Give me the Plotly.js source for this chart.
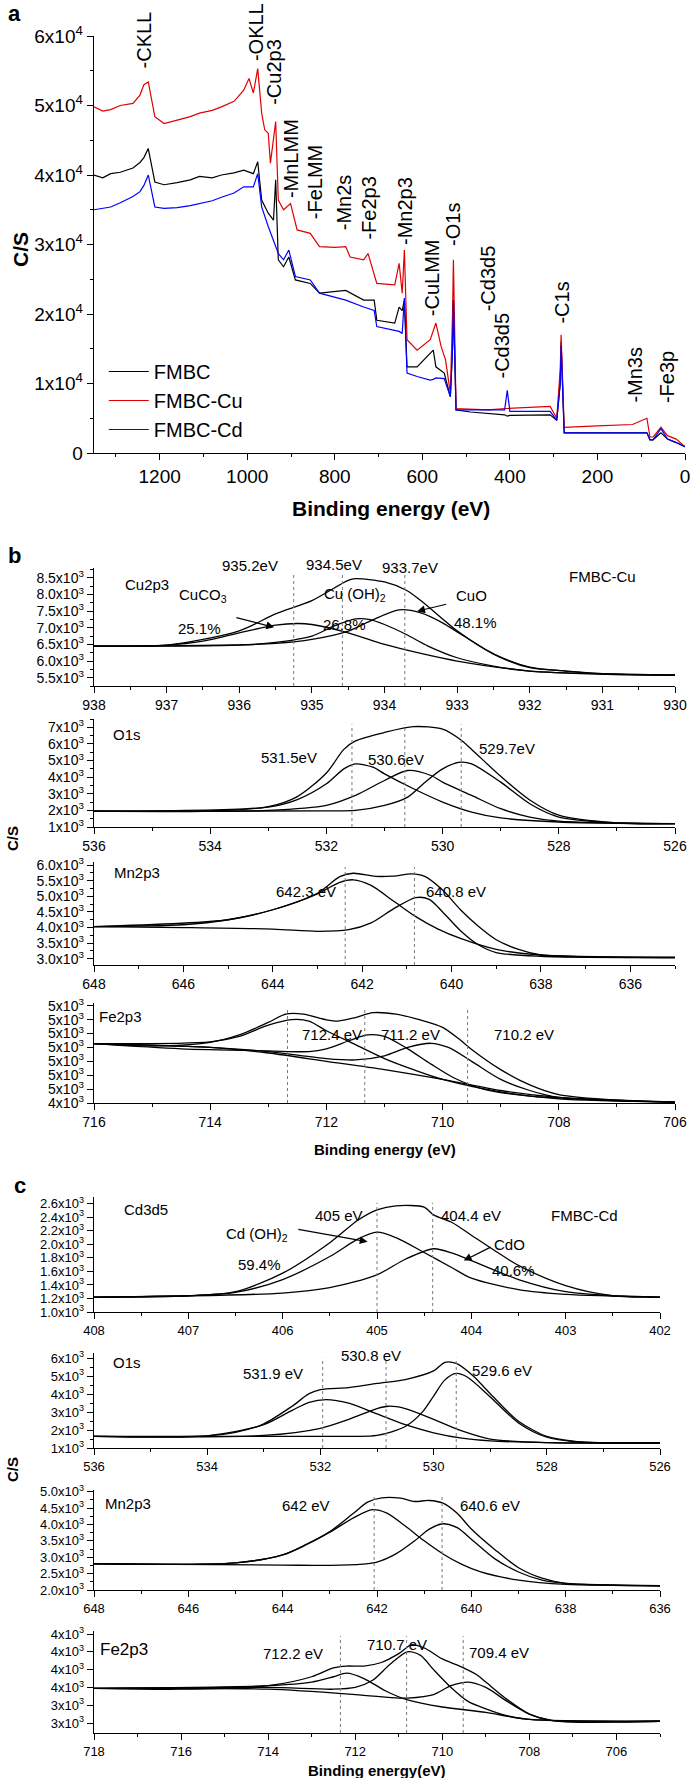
<!DOCTYPE html>
<html><head><meta charset="utf-8">
<script src="https://cdn.plot.ly/plotly-3.0.1.min.js"></script>
<style>body{margin:0;background:#fff}#c{width:692px;height:1778px}</style>
</head><body><div id="c"></div>
<script>
// ---------- Panel a: survey spectra ----------
const surveyE_Cu = [1350,1330,1312,1290,1261,1245,1236,1226,1211,1190,1160,1130,1109,1080,1059,1030,1008,996,986,976,967,960,952,947,935,929,917,901,886,856,835,800,775,765,734,724,704,680,663,653,646,641,635,612,582,569,557,547,536,531,529,523,490,450,410,308,293,285,283,276,200,120,87,80,73,55,40,20,0];
const surveyCu   = [49800,49200,49400,50000,50300,51500,53000,53400,48400,47400,47900,48400,48900,49300,49800,50600,52200,53900,51800,55300,48900,46500,46000,41700,47700,36400,35000,35900,32100,31600,29700,29600,29700,28200,27800,28700,24400,24300,24200,27300,23000,29200,16300,14800,16300,18700,15300,13400,8600,20000,27800,6400,6300,6200,6400,6700,5000,12000,17000,3700,3900,4100,5000,2300,2300,3700,2500,2000,900];
const surveyE = [1350,1330,1312,1290,1261,1245,1236,1226,1211,1190,1160,1130,1109,1080,1059,1030,1008,986,976,967,952,940,935,929,917,905,890,856,835,800,775,734,710,704,663,653,646,641,635,612,582,575,569,550,536,531,529,523,490,450,412,406,400,308,293,285,283,276,200,120,87,80,73,55,40,20,0];
const surveyFMBC = [40000,39600,40200,40400,41000,41800,42500,43800,39000,38600,38900,39300,39800,39600,40000,40300,40700,40200,41900,36400,34500,33500,39300,27800,26800,28200,24900,24400,23000,23200,23400,22000,22000,19100,18700,21000,20500,22000,12400,12400,14300,14800,12400,11500,8100,15000,22000,6200,5900,5700,5500,5300,5400,5500,4700,10000,16000,2900,2900,2800,2900,1900,1900,2900,2000,1500,900];
const surveyCd   = [35000,35200,35400,36000,36900,37600,38500,40000,35400,35200,35300,35600,35900,36300,36800,37400,38300,38300,40200,35400,32600,30600,30000,28700,27800,29200,25400,24900,23000,22400,22000,21000,20500,18200,17700,17500,17200,22300,11500,11000,10500,10600,10800,10700,8100,15000,22000,6200,6200,6200,6200,9000,6000,6000,4700,10000,15500,2900,2900,2800,2900,1900,1900,3500,2000,1500,900];
const surveyLabels = ["-CKLL","-OKLL","-Cu2p3","-MnLMM","-FeLMM","-Mn2s","-Fe2p3","-Mn2p3","-CuLMM","-O1s","-Cd3d5","-Cd3d5","-C1s","-Mn3s","-Fe3p"];
const surveyLabelE = [1236,980,939,901,846,780,721,641,579,529,450,417,280,113,41];
const surveyLabelY = [55100,56100,49800,36400,33300,31700,30400,29700,19400,29500,20100,10500,18400,6900,6900];
const aYTicks = [0,10000,20000,30000,40000,50000,60000];
const aYText = ["0","1x10<sup>4</sup>","2x10<sup>4</sup>","3x10<sup>4</sup>","4x10<sup>4</sup>","5x10<sup>4</sup>","6x10<sup>4</sup>"];

// ---------- Panel b: FMBC-Cu ----------
const bCuE_env = [938,937,936,935.5,935,934.5,934.4,934,933.7,933.5,933,932.5,932,931.5,931,930];
const bCu_env  = [6450,6480,6910,7420,7820,8430,8480,8380,8130,7820,6910,6210,5800,5700,5620,5580];
const bCuE_c1 = [938,937,936.5,936,935.5,935.2,935,934.5,934,933.5,933,932,931,930];
const bCu_c1  = [6450,6480,6600,6850,7080,7130,7100,6850,6500,6230,6000,5700,5610,5580];
const bCuE_c2 = [938,936,935.5,935,934.7,934.4,934.2,934,933.7,933.4,933,932.5,932,931,930];
const bCu_c2  = [6450,6480,6560,6750,7050,7270,7250,7100,6800,6450,6100,5850,5700,5610,5580];
const bCuE_c3 = [938,937,936,935.5,935,934.5,934.2,933.8,933.5,933.2,933,932.5,932,931.5,931,930];
const bCu_c3  = [6450,6455,6490,6530,6650,6900,7200,7540,7450,7150,6880,6220,5820,5700,5620,5580];
const bCuV = [935.25,934.58,933.72];

const bOE = [536,534,533,532.5,532,531.7,531.5,531,530.5,530,529.7,529.5,529,528.5,528,527,526];
const bO_env = [1950,1960,2220,2830,4250,5670,6180,6690,7040,6890,6280,5670,4050,2630,1710,1240,1200];
const bOE_c1 = [536,533,532.5,532,531.7,531.5,531.2,531,530.5,530,529.5,529,528,526];
const bO_c1  = [1950,2200,2650,3600,4500,4800,4600,4200,3300,2500,1900,1550,1300,1200];
const bOE_c2 = [536,533,532,531.5,531,530.6,530.2,530,529.5,529,528.5,528,526];
const bO_c2  = [1950,2000,2300,2900,3800,4400,4100,3700,2900,2100,1600,1350,1200];
const bOE_c3 = [536,532,531.5,531,530.6,530.3,530,529.7,529.5,529,528.5,528,527,526];
const bO_c3  = [1950,1970,2000,2300,2800,3700,4500,4900,4800,3700,2400,1600,1250,1200];
const bOV = [531.56,530.65,529.68];

const bMnE_env = [648,646,645,644,643,642.5,642.2,641.7,641.3,640.9,640.6,640.2,639.8,639.4,639,638.5,638,637,635];
const bMn_env  = [4030,4090,4250,4570,5100,5630,5740,5640,5650,5720,5640,5200,4570,4040,3610,3300,3120,3060,3040];
const bMnE_c1 = [648,645,644,643,642.5,642.2,641.8,641.3,640.8,640.3,639.8,639,638,635];
const bMn_c1  = [4030,4250,4570,5080,5450,5530,5350,4850,4350,3950,3650,3300,3120,3040];
const bMnE_c2 = [648,646,644,643,642.3,641.8,641.3,640.8,640.5,640.2,639.8,639.4,639,638,635];
const bMn_c2  = [4030,4000,3950,3880,3930,4150,4600,4960,4900,4500,3900,3450,3200,3080,3040];
const bMnV = [642.38,640.83];

const bFeE_env = [716,715,714,713.5,713,712.7,712.4,712,711.8,711.5,711.2,710.8,710.4,710,709.7,709.5,709,708.5,708,707,706];
const bFe_env  = [4827,4810,4837,4890,4980,5040,5040,4999,4990,5015,5050,5040,5000,4945,4855,4785,4640,4530,4460,4420,4407];
const bFeE_c1 = [716,714,713.5,713,712.6,712.3,712,711.5,711,710.5,710,709,708,706];
const bFe_c1  = [4827,4840,4880,4960,5000,4990,4920,4820,4720,4640,4570,4480,4430,4407];
const bFeE_c2 = [716,714.5,713,712.3,712,711.6,711.3,711,710.6,710.2,709.8,709.3,708.5,706];
const bFe_c2  = [4827,4790,4775,4770,4790,4850,4890,4880,4790,4680,4580,4500,4450,4407];
const bFeE_c3 = [716,714,713,712,711.5,711,710.6,710.2,709.9,709.5,709,708.5,708,706];
const bFe_c3  = [4827,4800,4770,4720,4710,4740,4800,4830,4800,4700,4570,4490,4440,4407];
const bFeE_bg = [716,714,713,712,711,710,709,708,706];
const bFe_bg  = [4827,4800,4760,4700,4640,4570,4490,4440,4407];
const bFeV = [712.67,711.34,709.57];

// ---------- Panel c: FMBC-Cd ----------
const cCdE_env = [408,407,406.5,406,405.5,405.2,405,404.8,404.5,404.4,404.2,404,403.5,403,402.5,402];
const cCd_env  = [1220,1240,1300,1575,2025,2360,2510,2570,2550,2435,2320,2135,1690,1390,1240,1220];
const cCdE_c1 = [408,407,406.5,406,405.5,405.2,405,404.8,404.5,404.2,404,403.5,403,402];
const cCd_c1  = [1220,1240,1290,1480,1820,2080,2180,2100,1880,1650,1500,1330,1260,1220];
const cCdE_c2 = [408,406,405.5,405,404.7,404.4,404.2,404,403.5,403,402.5,402];
const cCd_c2  = [1220,1280,1360,1550,1780,1935,1870,1760,1480,1300,1240,1220];
const cCdV = [405.0,404.41];

const cOE_env = [536,534,533.5,533,532.5,532.2,532,531.5,531,530.5,530,529.8,529.6,529.3,529,528.5,528,527.5,527,526];
const cO_env  = [1650,1680,1870,2350,3330,4030,4260,4370,4600,4820,5300,5780,5720,5020,4030,2490,1650,1370,1280,1280];
const cOE_c1 = [536,534,533,532.5,532.2,531.9,531.5,531,530.5,530,529.5,529,528,526];
const cO_c1  = [1650,1680,2300,3100,3550,3700,3500,2900,2300,1850,1550,1400,1300,1280];
const cOE_c2 = [536,533,532,531.5,531,530.8,530.5,530,529.5,529,528,526];
const cO_c2  = [1650,1700,2100,2600,3200,3330,3200,2600,1950,1500,1300,1280];
const cOE_c3 = [536,531.5,531,530.5,530.2,530,529.8,529.6,529.4,529,528.5,528,527.5,526];
const cO_c3  = [1650,1650,1700,2200,3000,3900,4800,5160,4950,3850,2400,1600,1350,1280];
const cOV = [531.96,530.84,529.6];

const cMnE_env = [648,645,644,643.5,643,642.5,642.2,641.9,641.5,641.2,640.9,640.6,640.3,640,639.5,639,638.5,638,637,636];
const cMn_env  = [2800,2830,3070,3390,3780,4340,4680,4810,4800,4700,4730,4650,4340,3860,3230,2680,2360,2200,2150,2130];
const cMnE_c1 = [648,645,644,643.5,643,642.5,642.1,641.8,641.4,641,640.6,640.2,639.8,639,638,636];
const cMn_c1  = [2800,2830,3070,3380,3760,4200,4450,4350,3950,3500,3100,2780,2550,2300,2170,2130];
const cMnE_c2 = [648,644,643,642.3,642,641.6,641.2,640.9,640.6,640.3,640,639.5,639,638.5,638,636];
const cMn_c2  = [2800,2760,2750,2790,2850,3100,3500,3850,4020,3900,3550,2950,2550,2300,2200,2130];
const cMnV = [642.06,640.62];

const cFeE_env = [718,716,714,713,712.5,712.2,711.8,711.4,711,710.7,710.4,710,709.6,709.2,709,708.5,708,707.5,707,706,705];
const cFe_env  = [3495,3490,3510,3560,3610,3620,3620,3640,3690,3740,3720,3660,3620,3570,3530,3430,3350,3315,3305,3305,3310];
const cFeE_c1 = [718,714,713,712.5,712.2,711.8,711.3,710.8,710,709,708,705];
const cFe_c1  = [3495,3510,3530,3560,3580,3550,3480,3430,3390,3360,3320,3310];
const cFeE_c2 = [718,714,712.5,712,711.6,711.2,710.8,710.5,710.2,709.8,709.4,709,708.5,708,705];
const cFe_c2  = [3495,3500,3490,3500,3540,3630,3700,3680,3600,3500,3420,3380,3340,3320,3310];
const cFeE_c3 = [718,714,712,711,710.8,710.2,709.8,709.4,709,708.5,708,707.5,705];
const cFe_c3  = [3495,3490,3460,3440,3440,3460,3510,3530,3500,3420,3350,3315,3310];
const cFeV = [712.34,710.82,709.52];

// ---------- build ----------
const F = "Liberation Sans, Arial, sans-serif";
const H = 1778, W = 692;
const traces = [], annotations = [], shapes = [];
const layout = {width:W, height:H, margin:{l:0,r:0,t:0,b:0}, showlegend:true,
  paper_bgcolor:'#fff', plot_bgcolor:'rgba(0,0,0,0)', font:{family:F,color:'#000'},
  legend:{x:0.15, y:1-352/H, xanchor:'left', yanchor:'top', font:{size:20,family:F}, bgcolor:'rgba(0,0,0,0)', tracegroupgap:0, itemwidth:40}};

function ax(n){ return n===1 ? '' : String(n); }
function addAxes(n, xd, ytop, ybot, xr, yr, xdtick, yvals, ytext, tfs, xminor, yminor){
  layout['xaxis'+ax(n)] = {domain:[94/W, xd/W], range:xr, anchor:'y'+ax(n), showline:true, linecolor:'#000', linewidth:1.3,
    showgrid:false, zeroline:false, ticks:'outside', ticklen:6, tickcolor:'#000', dtick:xdtick, tick0:0,
    tickfont:{size:tfs, family:F}, minor:{ticks:'outside', ticklen:3, dtick:xminor, tickcolor:'#000'}};
  layout['yaxis'+ax(n)] = {domain:[1-ybot/H, 1-ytop/H], range:yr, anchor:'x'+ax(n), showline:true, linecolor:'#000', linewidth:1.3,
    showgrid:false, zeroline:false, ticks:'outside', ticklen:6, tickcolor:'#000', tickmode:'array', tickvals:yvals, ticktext:ytext,
    tickfont:{size:tfs, family:F}, minor:{ticks:'outside', ticklen:3, dtick:yminor, tickcolor:'#000'}};
}
function line(n, x, y, color, name, show){
  traces.push({x:x, y:y, xaxis:'x'+ax(n), yaxis:'y'+ax(n), type:'scatter', mode:'lines', name:name||'',
    showlegend:!!show, line:{color:color||'#000', width: show!==undefined?1.2:1.3, shape: show!==undefined?'linear':'spline', smoothing:0.8}, hoverinfo:'skip'});
}
function txt(n, x, y, t, size, xanchor, ysh){
  annotations.push({xref:'x'+ax(n), yref:'y'+ax(n), x:x, y:y, yshift:ysh||0, text:t, showarrow:false, font:{size:size||15, family:F}, xanchor:xanchor||'center', yanchor:'middle'});
}
function arrow(n, x0, y0, x1, y1){
  annotations.push({xref:'x'+ax(n), yref:'y'+ax(n), axref:'x'+ax(n), ayref:'y'+ax(n), x:x1, y:y1, ax:x0, ay:y0, text:'', showarrow:true, arrowhead:2, arrowsize:1.3, arrowwidth:1.2, arrowcolor:'#000'});
}
function vlines(n, xs){
  xs.forEach(v => shapes.push({type:'line', xref:'x'+ax(n), yref:'y'+ax(n)+' domain', x0:v, x1:v, y0:0, y1:0.95, line:{color:'#777', width:1, dash:'dot'}}));
}
function ptxt(x, y, t, size, bold, angle){
  annotations.push({xref:'paper', yref:'paper', x:x/W, y:1-y/H, text: bold?'<b>'+t+'</b>':t, showarrow:false, font:{size:size, family:F}, textangle:angle||0, xanchor:'center', yanchor:'middle'});
}

// Panel a
addAxes(1, 685, 36, 453, [1350,0], [0,60000], 200, aYTicks, aYText, 19, 100, 5000);
line(1, surveyE, surveyFMBC, '#000', 'FMBC', true);
line(1, surveyE_Cu, surveyCu, '#e00000', 'FMBC-Cu', true);
line(1, surveyE, surveyCd, '#0000ff', 'FMBC-Cd', true);
surveyLabels.forEach((t,i)=>annotations.push({xref:'x', yref:'y', x:surveyLabelE[i], y:surveyLabelY[i], text:t, textangle:-90, showarrow:false, font:{size:20,family:F}, xanchor:'center', yanchor:'bottom'}));
ptxt(14, 14, 'a', 22, true);
ptxt(391, 508, 'Binding energy (eV)', 21, true);
ptxt(20, 250, 'C/S', 21, true, -90);

// Panel b
const tf = 14;
addAxes(2, 675, 568, 686, [938,930], [5250,8800], 1, [5500,6000,6500,7000,7500,8000,8500],
  ["5.5x10<sup>3</sup>","6.0x10<sup>3</sup>","6.5x10<sup>3</sup>","7.0x10<sup>3</sup>","7.5x10<sup>3</sup>","8.0x10<sup>3</sup>","8.5x10<sup>3</sup>"], tf, 0.5, 250);
[[bCuE_env,bCu_env],[bCuE_c1,bCu_c1],[bCuE_c2,bCu_c2],[bCuE_c3,bCu_c3]].forEach(p=>line(2,p[0],p[1]));
vlines(2, bCuV);
txt(2, 937.6, 8300, 'Cu2p3', 15, 'left');
txt(2, 935.85, 8780, '935.2eV', 15, 'center', 3); txt(2, 934.7, 8780, '934.5eV', 15, 'center', 4); txt(2, 933.65, 8780, '933.7eV', 15, 'center', 1);
txt(2, 931.0, 8530, 'FMBC-Cu', 15);
txt(2, 936.5, 7975, 'CuCO<sub>3</sub>', 15); txt(2, 934.4, 8000, 'Cu (OH)<sub>2</sub>', 15); txt(2, 932.8, 7975, 'CuO', 15);
txt(2, 936.55, 6980, '25.1%', 15); txt(2, 934.55, 7090, '26.8%', 15); txt(2, 932.75, 7170, '48.1%', 15);
arrow(2, 936.06, 7320, 935.52, 7015); arrow(2, 933.13, 7720, 933.55, 7500);
ptxt(14, 556, 'b', 22, true);

addAxes(3, 675, 719, 827, [536,526], [1000,7500], 2, [1000,2000,3000,4000,5000,6000,7000],
  ["1x10<sup>3</sup>","2x10<sup>3</sup>","3x10<sup>3</sup>","4x10<sup>3</sup>","5x10<sup>3</sup>","6x10<sup>3</sup>","7x10<sup>3</sup>"], tf, 1, 500);
[[bOE,bO_env],[bOE_c1,bO_c1],[bOE_c2,bO_c2],[bOE_c3,bO_c3]].forEach(p=>line(3,p[0],p[1]));
vlines(3, bOV);
txt(3, 535.7, 6590, 'O1s', 15, 'left');
txt(3, 532.65, 5170, '531.5eV', 15); txt(3, 530.8, 5060, '530.6eV', 15); txt(3, 528.9, 5720, '529.7eV', 15);
ptxt(12, 838, 'C/S', 15, true, -90);

addAxes(4, 675, 862, 965, [648,635], [2800,6100], 2, [3000,3500,4000,4500,5000,5500,6000],
  ["3.0x10<sup>3</sup>","3.5x10<sup>3</sup>","4.0x10<sup>3</sup>","4.5x10<sup>3</sup>","5.0x10<sup>3</sup>","5.5x10<sup>3</sup>","6.0x10<sup>3</sup>"], tf, 1, 250);
[[bMnE_env,bMn_env],[bMnE_c1,bMn_c1],[bMnE_c2,bMn_c2]].forEach(p=>line(4,p[0],p[1]));
vlines(4, bMnV);
txt(4, 647.6, 5750, 'Mn2p3', 15, 'left');
txt(4, 643.25, 5150, '642.3 eV', 15); txt(4, 639.9, 5150, '640.8 eV', 15);

addAxes(5, 675, 1003, 1103, [716,706], [4400,5120], 2, [4400,4500,4600,4700,4800,4900,5000,5100],
  ["4x10<sup>3</sup>","5x10<sup>3</sup>","5x10<sup>3</sup>","5x10<sup>3</sup>","5x10<sup>3</sup>","5x10<sup>3</sup>","5x10<sup>3</sup>","5x10<sup>3</sup>"], tf, 1, 50);
layout.yaxis5.minor = {ticks:''};
[[bFeE_env,bFe_env],[bFeE_c1,bFe_c1],[bFeE_c2,bFe_c2],[bFeE_c3,bFe_c3],[bFeE_bg,bFe_bg]].forEach(p=>line(5,p[0],p[1]));
vlines(5, bFeV);
txt(5, 715.95, 5020, 'Fe2p3', 15, 'left');
txt(5, 711.9, 4890, '712.4 eV', 15); txt(5, 710.55, 4890, '711.2 eV', 15); txt(5, 708.6, 4890, '710.2 eV', 15);
ptxt(385, 1149, 'Binding energy (eV)', 15, true);

// Panel c
addAxes(6, 660, 1197, 1312, [408,402], [1000,2700], 1, [1000,1200,1400,1600,1800,2000,2200,2400,2600],
  ["1.0x10<sup>3</sup>","1.2x10<sup>3</sup>","1.4x10<sup>3</sup>","1.6x10<sup>3</sup>","1.8x10<sup>3</sup>","2.0x10<sup>3</sup>","2.2x10<sup>3</sup>","2.4x10<sup>3</sup>","2.6x10<sup>3</sup>"], 13, 0.5, 100);
layout.yaxis6.minor = {ticks:''};
[[cCdE_env,cCd_env],[cCdE_c1,cCd_c1],[cCdE_c2,cCd_c2]].forEach(p=>line(6,p[0],p[1]));
vlines(6, cCdV);
txt(6, 407.7, 2510, 'Cd3d5', 15, 'left');
txt(6, 405.4, 2420, '405 eV', 15); txt(6, 404.0, 2420, '404.4 eV', 15); txt(6, 402.8, 2420, 'FMBC-Cd', 15);
txt(6, 406.27, 2140, 'Cd (OH)<sub>2</sub>', 15); txt(6, 403.6, 2000, 'CdO', 15);
txt(6, 406.25, 1700, '59.4%', 15); txt(6, 403.55, 1610, '40.6%', 15);
arrow(6, 405.85, 2226, 405.1, 2040); arrow(6, 403.78, 1970, 404.08, 1760);
ptxt(20, 1185, 'c', 22, true);

addAxes(7, 660, 1353, 1448, [536,526], [1000,6300], 2, [1000,2000,3000,4000,5000,6000],
  ["1x10<sup>3</sup>","2x10<sup>3</sup>","3x10<sup>3</sup>","4x10<sup>3</sup>","5x10<sup>3</sup>","6x10<sup>3</sup>"], 13, 1, 500);
[[cOE_env,cO_env],[cOE_c1,cO_c1],[cOE_c2,cO_c2],[cOE_c3,cO_c3]].forEach(p=>line(7,p[0],p[1]));
vlines(7, cOV);
txt(7, 535.7, 5780, 'O1s', 15, 'left');
txt(7, 532.84, 5160, '531.9 eV', 15); txt(7, 531.1, 6140, '530.8 eV', 15); txt(7, 528.8, 5300, '529.6 eV', 15);
ptxt(12, 1469, 'C/S', 15, true, -90);

addAxes(8, 660, 1490, 1590, [648,636], [2000,5050], 2, [2000,2500,3000,3500,4000,4500,5000],
  ["2.0x10<sup>3</sup>","2.5x10<sup>3</sup>","3.0x10<sup>3</sup>","3.5x10<sup>3</sup>","4.0x10<sup>3</sup>","4.5x10<sup>3</sup>","5.0x10<sup>3</sup>"], 13, 1, 250);
[[cMnE_env,cMn_env],[cMnE_c1,cMn_c1],[cMnE_c2,cMn_c2]].forEach(p=>line(8,p[0],p[1]));
vlines(8, cMnV);
txt(8, 647.8, 4650, 'Mn2p3', 15, 'left');
txt(8, 643.5, 4570, '642 eV', 15); txt(8, 639.6, 4570, '640.6 eV', 15);

addAxes(9, 660, 1631, 1733, [718,705], [3244,3817], 2, [3300,3400,3500,3600,3700,3800],
  ["3x10<sup>3</sup>","3x10<sup>3</sup>","4x10<sup>3</sup>","4x10<sup>3</sup>","4x10<sup>3</sup>","4x10<sup>3</sup>"], 13, 1, 50);
layout.yaxis9.minor = {ticks:''};
[[cFeE_env,cFe_env],[cFeE_c1,cFe_c1],[cFeE_c2,cFe_c2],[cFeE_c3,cFe_c3]].forEach(p=>line(9,p[0],p[1]));
vlines(9, cFeV);
txt(9, 717.9, 3715, 'Fe2p3', 17, 'left');
txt(9, 713.44, 3690, '712.2 eV', 15); txt(9, 711.04, 3740, '710.7 eV', 15); txt(9, 708.7, 3695, '709.4 eV', 15);
ptxt(377, 1770, 'Binding energy(eV)', 15, true);

layout.annotations = annotations;
layout.shapes = shapes;
Plotly.newPlot('c', traces, layout, {staticPlot:true, displayModeBar:false});
</script></body></html>
